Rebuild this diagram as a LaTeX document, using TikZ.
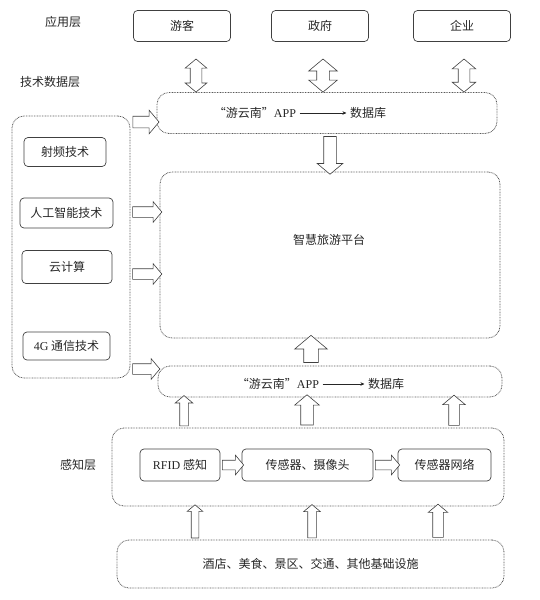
\documentclass[tikz,border=0pt]{standalone}
\usepackage{fontspec}
\setmainfont{Noto Sans CJK SC}
\newfontfamily\latinfont{Liberation Serif}
\usetikzlibrary{shapes.arrows,arrows.meta,calc}

\begin{document}
\begin{tikzpicture}[x=1pt,y=-1pt,
  every node/.style={font=\fontsize{12pt}{14pt}\selectfont, text=black!85}]
\useasboundingbox (0,0) rectangle (540,600);
   \tikzset{BoxStyle/.style = {draw = black!75, line width = 0.7pt, rounded corners = 4pt, minimum height = 31pt, inner sep = 2pt}}
   \tikzset{DotStyle/.style = {draw = black!65, line width = 0.8pt, dash pattern = on 0.8pt off 0.8pt, rounded corners = 12pt}}
   \tikzset{HollowStyle/.style = {draw = black!75, fill = white, line width = 0.6pt, inner xsep = 0pt,
      single arrow tip angle = 100, double arrow tip angle = 100}}
   \tikzset{ArrowStyle/.style 2 args = {to path = {let \p1 = (\tikztostart), \p2 = (\tikztotarget),
      \n1 = {veclen(\x2-\x1,\y2-\y1)} in (\tikztostart) -- (\tikztotarget)
      node[midway, sloped, allow upside down, single arrow, HollowStyle, inner ysep = #1,
      single arrow head extend = #2, minimum height = \n1] {}}}}
   \tikzset{TwoWayStyle/.style 2 args = {to path = {let \p1 = (\tikztostart), \p2 = (\tikztotarget),
      \n1 = {veclen(\x2-\x1,\y2-\y1)} in (\tikztostart) -- (\tikztotarget)
      node[midway, sloped, allow upside down, double arrow, HollowStyle, inner ysep = #1,
      double arrow head extend = #2, minimum height = \n1] {}}}}
   \tikzset{ThinArrow/.style = {draw = black!85, line width = 0.6pt, -{Stealth[length = 4pt, width = 3.5pt]}}}

   % application layer
   \node (lyApp) at (63,22) {应用层};
   \node[BoxStyle, minimum width = 97pt] (youke) at (182,26) {游客};
   \node[BoxStyle, minimum width = 97pt] (zhengfu) at (320,26) {政府};
   \node[BoxStyle, minimum width = 97pt] (qiye) at (462,26) {企业};

   % technology and data layer
   \node (lyTech) at (50,82) {技术数据层};
   \node[DotStyle, minimum width = 340pt, minimum height = 41pt] (appTop) at (327,113) {};
   \node (appTopL) at (255,113) {“游云南”{\latinfont APP}};
   \node (appTopR) at (368,113) {数据库};
   \draw[ThinArrow] (appTopL) -- (appTopR);

   \node[DotStyle, minimum width = 340pt, minimum height = 166pt] (platform) at (330,255) {};
   \node (platformText) at (329,240) {智慧旅游平台};

   \node[DotStyle, minimum width = 118pt, minimum height = 262pt] (techBox) at (71,247) {};
   \node[BoxStyle, minimum width = 82pt, minimum height = 29pt] (rf) at (65,152) {射频技术};
   \node[BoxStyle, minimum width = 93pt, minimum height = 30pt] (ai) at (66.5,213) {人工智能技术};
   \node[BoxStyle, minimum width = 90pt, minimum height = 33pt] (cloud) at (67,267) {云计算};
   \node[BoxStyle, minimum width = 87pt, minimum height = 28pt] (g4) at (66.5,346) {{\latinfont 4G} 通信技术};

   \node[DotStyle, minimum width = 344pt, minimum height = 31pt] (appBot) at (330,381.5) {};
   \node (appBotL) at (278,384) {“游云南”{\latinfont APP}};
   \node (appBotR) at (386,384) {数据库};
   \draw[ThinArrow] (appBotL) -- (appBotR);

   % perception layer
   \node (lySense) at (78,465) {感知层};
   \node[DotStyle, minimum width = 392pt, minimum height = 78pt] (sense) at (308,467) {};
   \node[BoxStyle, minimum width = 80pt, minimum height = 32pt] (rfid) at (180,465) {{\latinfont RFID} 感知};
   \node[BoxStyle, minimum width = 131pt, minimum height = 32pt] (sensor) at (307.5,465) {传感器、摄像头};
   \node[BoxStyle, minimum width = 93pt, minimum height = 32pt] (sensNet) at (444.5,465) {传感器网络};

   \node[DotStyle, minimum width = 387pt, minimum height = 48pt] (infra) at (310.5,564) {酒店、美食、景区、交通、其他基础设施};

   % block arrows
   \path (196,59) coordinate (d1) to[TwoWayStyle = {5.5pt}{5pt}] (d1 |- appTop.north);
   \path (323,59) coordinate (d2) to[TwoWayStyle = {6pt}{8pt}] (d2 |- appTop.north);
   \path (464,59) coordinate (d3) to[TwoWayStyle = {5.5pt}{6pt}] (d3 |- appTop.north);
   \path (appTop.south -| platform.north) to[ArrowStyle = {6pt}{6.5pt}] (platform.north);

   \path ([yshift = 125pt]techBox.east) coordinate (l1) to[ArrowStyle = {5.5pt}{6pt}] (l1 -| appTop.west);
   \path ([yshift = 35pt]techBox.east) coordinate (l2) to[ArrowStyle = {5pt}{5pt}] (l2 -| platform.west);
   \path ([yshift = -27pt]techBox.east) coordinate (l3) to[ArrowStyle = {5pt}{5pt}] (l3 -| platform.west);
   \path ([yshift = -122pt]techBox.east) coordinate (l4) to[ArrowStyle = {5pt}{5pt}] (l4 -| appBot.west);

   \path ([xshift = -19pt]appBot.north) coordinate (u0) to[ArrowStyle = {7pt}{9pt}] (u0 |- platform.south);
   \path ([xshift = -124pt]sense.north) coordinate (u1) to[ArrowStyle = {4pt}{4.5pt}] (u1 |- appBot.south);
   \path ([xshift = -1pt]sense.north) coordinate (u2) to[ArrowStyle = {6pt}{6pt}] (u2 |- appBot.south);
   \path ([xshift = 146pt]sense.north) coordinate (u3) to[ArrowStyle = {5pt}{6pt}] (u3 |- appBot.south);

   \path ([xshift = -115.5pt]infra.north) coordinate (v1) to[ArrowStyle = {3.5pt}{4pt}] (v1 |- sense.south);
   \path ([xshift = 1.5pt]infra.north) coordinate (v2) to[ArrowStyle = {4pt}{4pt}] (v2 |- sense.south);
   \path ([xshift = 127.5pt]infra.north) coordinate (v3) to[ArrowStyle = {5pt}{4.5pt}] (v3 |- sense.south);

   \path (rfid.east) to[ArrowStyle = {4.5pt}{5pt}] (sensor.west);
   \path (sensor.east) to[ArrowStyle = {4.5pt}{5pt}] (sensNet.west);

\end{tikzpicture}
\end{document}
